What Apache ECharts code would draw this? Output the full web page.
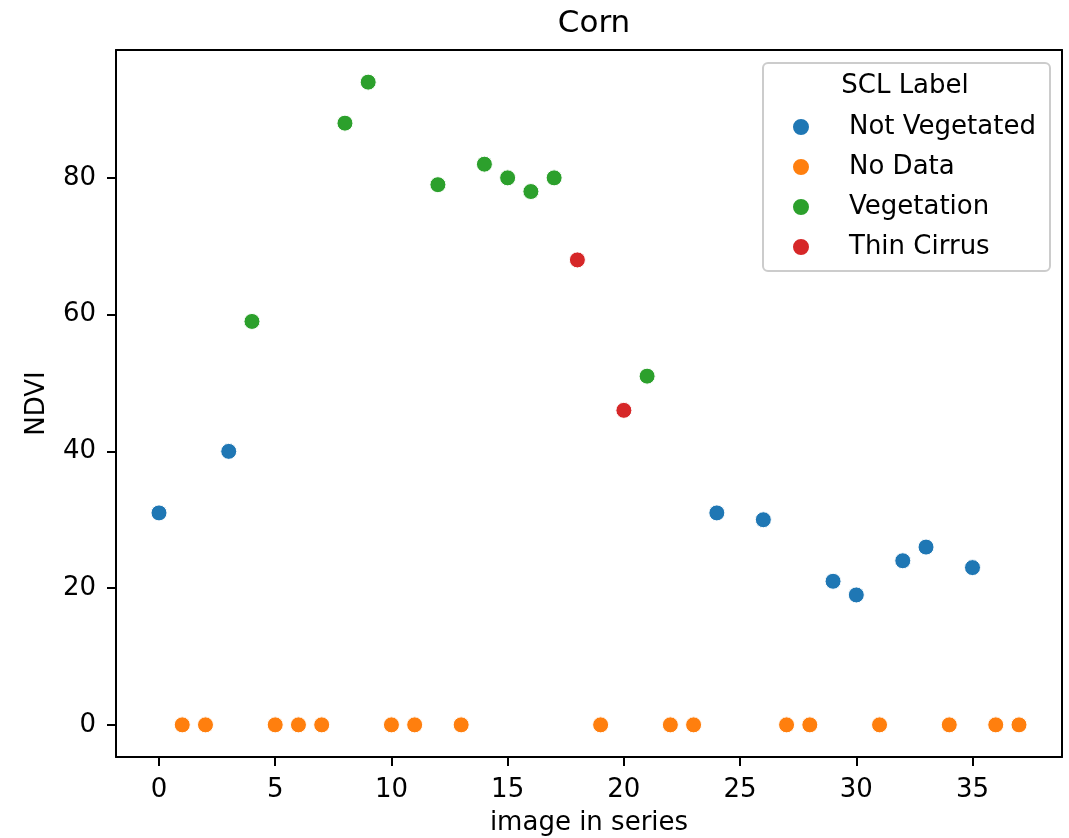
<!DOCTYPE html>
<html>
<head>
<meta charset="utf-8">
<script src="https://cdn.jsdelivr.net/npm/echarts@6/dist/echarts.min.js"></script>
<style>
  html, body { margin: 0; padding: 0; background: #fff; }
  #chart { width: 1069px; height: 838px; }
</style>
</head>
<body>
<div id="chart"></div>
<script>
// data
const notVegX = [0, 3, 24, 26, 29, 30, 32, 33, 35];
const notVegY = [31, 40, 31, 30, 21, 19, 24, 26, 23];
const noDataX = [1, 2, 5, 6, 7, 10, 11, 13, 19, 22, 23, 27, 28, 31, 34, 36, 37];
const noDataY = [0, 0, 0, 0, 0, 0, 0, 0, 0, 0, 0, 0, 0, 0, 0, 0, 0];
const vegX = [4, 8, 9, 12, 14, 15, 16, 17, 21];
const vegY = [59, 88, 94, 79, 82, 80, 78, 80, 51];
const cirrusX = [18, 20];
const cirrusY = [68, 46];
const xTicks = [0, 5, 10, 15, 20, 25, 30, 35];
const yTicks = [0, 20, 40, 60, 80];

const FONT = 'DejaVu Sans';
const X_MIN = -1.85, X_MAX = 38.85, Y_MIN = -4.7, Y_MAX = 98.7;
const pairs = (xs, ys) => xs.map((x, i) => [x, ys[i]]);

function makeSeries(name, xs, ys, color) {
    return {
        name: name,
        type: 'scatter',
        data: pairs(xs, ys),
        symbol: 'circle',
        symbolSize: 16,
        itemStyle: { color: color, borderColor: '#fff', borderWidth: 1, opacity: 1 },
        emphasis: { disabled: true }
    };
}

// plain frame axis (top / right spine)
function spine(pos, min, max) {
    return {
        type: 'value', position: pos, min: min, max: max,
        splitLine: { show: false },
        axisLine: { show: true, onZero: false, lineStyle: { color: '#000', width: 2 } },
        axisTick: { show: false },
        axisLabel: { show: false }
    };
}

const chart = echarts.init(document.getElementById('chart'));
chart.setOption({
    animation: false,
    backgroundColor: '#fff',
    textStyle: { fontFamily: FONT },
    title: {
        text: 'Corn',
        left: 589,
        textAlign: 'center',
        top: 3,
        textStyle: { fontFamily: FONT, fontSize: 31, fontWeight: 'normal', color: '#000' }
    },
    grid: { left: 116, right: 7, top: 50, bottom: 81, outerBoundsMode: 'none' },
    xAxis: [{
        type: 'value',
        min: X_MIN,
        max: X_MAX,
        name: 'image in series',
        nameLocation: 'middle',
        nameGap: 53,
        nameTextStyle: { fontFamily: FONT, fontSize: 26, color: '#000' },
        splitLine: { show: false },
        axisLine: { show: true, onZero: false, lineStyle: { color: '#000', width: 2 } },
        axisTick: { show: true, customValues: xTicks, length: 9, lineStyle: { color: '#000', width: 2 } },
        axisLabel: { customValues: xTicks, margin: 20, fontFamily: FONT, fontSize: 26, color: '#000' }
    }, spine('top', X_MIN, X_MAX)],
    yAxis: [{
        type: 'value',
        min: Y_MIN,
        max: Y_MAX,
        name: 'NDVI',
        nameLocation: 'middle',
        nameRotate: 90,
        nameGap: 66,
        nameTextStyle: { fontFamily: FONT, fontSize: 26, color: '#000' },
        splitLine: { show: false },
        axisLine: { show: true, onZero: false, lineStyle: { color: '#000', width: 2 } },
        axisTick: { show: true, customValues: yTicks, length: 9, lineStyle: { color: '#000', width: 2 } },
        axisLabel: { customValues: yTicks, margin: 20, fontFamily: FONT, fontSize: 26, color: '#000' }
    }, spine('right', Y_MIN, Y_MAX)],
    legend: {
        orient: 'vertical',
        left: 791,
        top: 114,
        padding: 0,
        icon: 'circle',
        itemWidth: 18,
        itemHeight: 18,
        itemGap: 14,
        selectedMode: false,
        textStyle: { fontFamily: FONT, fontSize: 26, color: '#000', lineHeight: 26, padding: [0, 0, 0, 34] },
        data: ['Not Vegetated', 'No Data', 'Vegetation', 'Thin Cirrus']
    },
    graphic: [
        {
            type: 'rect',
            z: 0,
            shape: { x: 763, y: 63, width: 287, height: 208, r: 5 },
            style: { fill: 'rgba(255,255,255,0.8)', stroke: '#cccccc', lineWidth: 2 }
        },
        {
            type: 'text',
            z: 1,
            style: {
                x: 905, y: 86, text: 'SCL Label',
                fontFamily: FONT, fontSize: 26, fill: '#000',
                align: 'center', verticalAlign: 'middle'
            }
        }
    ],
    series: [
        makeSeries('Not Vegetated', notVegX, notVegY, '#1f77b4'),
        makeSeries('No Data', noDataX, noDataY, '#ff7f0e'),
        makeSeries('Vegetation', vegX, vegY, '#2ca02c'),
        makeSeries('Thin Cirrus', cirrusX, cirrusY, '#d62728')
    ]
});
</script>
</body>
</html>
